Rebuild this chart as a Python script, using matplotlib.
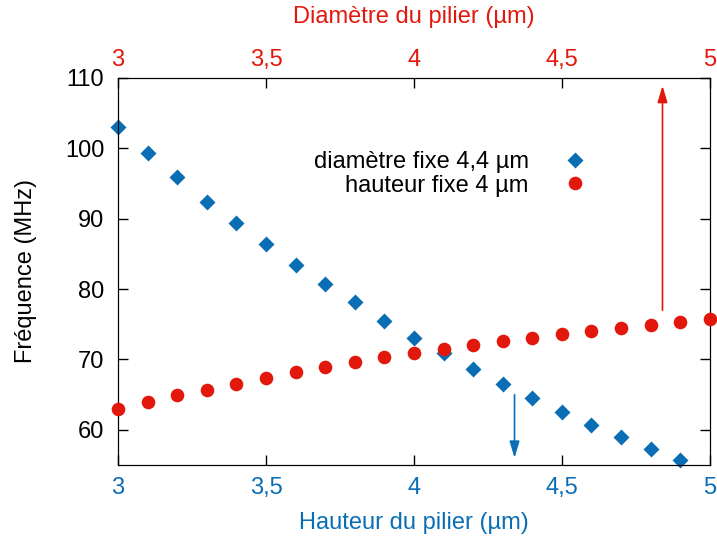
import numpy as np
import matplotlib.pyplot as plt

plt.rcParams['font.family'] = ['Liberation Sans', 'DejaVu Sans']

bleu = '#0a6eb4'
rouge = '#e3180c'

# hauteur variable, diametre fixe 4,4 um
hauteur = [3.0, 3.1, 3.2, 3.3, 3.4, 3.5, 3.6, 3.7, 3.8, 3.9,
           4.0, 4.1, 4.2, 4.3, 4.4, 4.5, 4.6, 4.7, 4.8, 4.9]
freq_h = [103.0, 99.3, 95.9, 92.4, 89.4, 86.4, 83.4, 80.7, 78.1, 75.5,
          73.1, 70.9, 68.6, 66.5, 64.5, 62.6, 60.7, 59.0, 57.3, 55.7]

# diametre variable, hauteur fixe 4 um
diametre = [3.0, 3.1, 3.2, 3.3, 3.4, 3.5, 3.6, 3.7, 3.8, 3.9, 4.0,
            4.1, 4.2, 4.3, 4.4, 4.5, 4.6, 4.7, 4.8, 4.9, 5.0]
freq_d = [63.0, 63.9, 64.9, 65.7, 66.5, 67.4, 68.2, 68.9, 69.6, 70.3, 70.9,
          71.5, 72.0, 72.6, 73.1, 73.6, 74.0, 74.5, 74.9, 75.3, 75.7]

ticks = [3, 3.5, 4, 4.5, 5]
tick_labels = ['3', '3,5', '4', '4,5', '5']

fs = 17

fig = plt.figure(figsize=(7.17, 5.36), dpi=100)
ax = fig.add_axes([0.1646, 0.1325, 0.8254, 0.722])
ax2 = ax.twiny()

l1, = ax.plot(hauteur, freq_h, 'D', color=bleu, ms=8.5, mec='none',
              label='diamètre fixe 4,4 µm', clip_on=False, zorder=3)
l2, = ax2.plot(diametre, freq_d, 'o', color=rouge, ms=9.8, mec='none',
               label='hauteur fixe 4 µm', clip_on=False, zorder=3)

fleche = dict(arrowstyle='-|>,head_length=0.5,head_width=0.15', lw=1.2,
              mutation_scale=20, shrinkA=0, shrinkB=0)
ax.annotate('', xy=(4.34, 56.0), xytext=(4.34, 65.0),
            arrowprops=dict(color=bleu, **fleche))
ax2.annotate('', xy=(4.84, 108.9), xytext=(4.84, 77.0),
             arrowprops=dict(color=rouge, **fleche))

ax.set_xlim(3, 5)
ax2.set_xlim(3, 5)
ax.set_ylim(55, 110)
ax.set_yticks([60, 70, 80, 90, 100, 110])

ax.set_xticks(ticks)
ax.set_xticklabels(tick_labels)
ax2.set_xticks(ticks)
ax2.set_xticklabels(tick_labels)

ax.tick_params(axis='x', direction='in', colors=bleu, labelsize=fs, pad=9,
               length=7, width=1)
ax.tick_params(axis='x', color='black')
ax.tick_params(axis='y', direction='in', right=True, labelsize=fs, pad=10,
               length=7, width=1)
ax2.tick_params(axis='x', direction='in', colors=rouge, labelsize=fs, pad=5,
                length=7, width=1)
ax2.tick_params(axis='x', color='black')

ax.set_xlabel('Hauteur du pilier (µm)', color=bleu, fontsize=fs, labelpad=9)
ax2.set_xlabel('Diamètre du pilier (µm)', color=rouge, fontsize=fs, labelpad=19)
ax.set_ylabel('Fréquence (MHz)', fontsize=fs, labelpad=20)

ax.legend(handles=[l1, l2], loc='upper right', bbox_to_anchor=(0.832, 0.865),
          frameon=False, markerfirst=False, fontsize=fs, handlelength=1.2,
          handletextpad=1.36, labelspacing=0.05)

fig.savefig('out.png', dpi=100)
